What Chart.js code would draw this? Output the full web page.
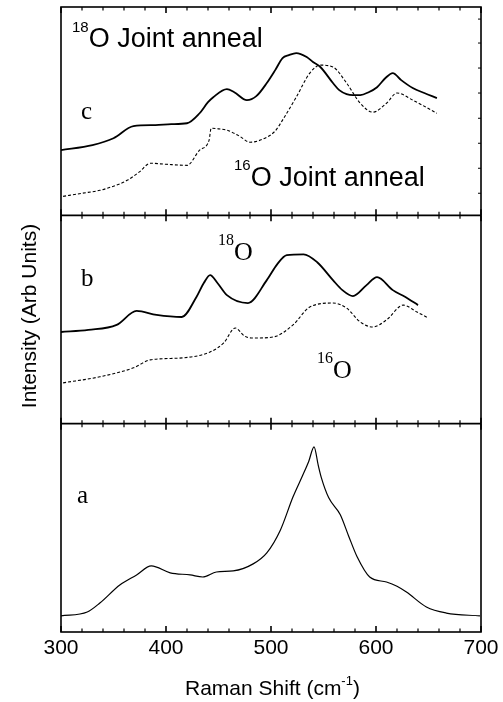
<!DOCTYPE html>
<html>
<head>
<meta charset="utf-8">
<script src="https://cdn.jsdelivr.net/npm/chart.js@4.4.0/dist/chart.umd.min.js"></script>
<style>
  html, body { margin: 0; padding: 0; background: #fff; }
  canvas { display: block; }
</style>
</head>
<body>
<canvas id="raman" width="503" height="702"></canvas>
<script>
// x ticks (Raman shift, cm-1)
const xTicks = [300, 400, 500, 600, 700];

// panel a : single spectrum
const shiftA = [300, 325, 337, 356, 372, 386, 404, 423, 435, 448, 464, 483, 496, 509, 521, 530, 536, 541, 545, 548, 555, 566, 574, 582, 594, 610, 620, 629, 648, 667, 699];
const intensityA = [7.7, 9.6, 13.9, 22.6, 27.4, 31.7, 28.4, 27.4, 26.4, 28.8, 29.3, 32.7, 38.0, 49.0, 64.9, 75.0, 82.0, 88.9, 80.0, 74.0, 64.4, 56.3, 46.0, 36.1, 26.4, 24.0, 22.0, 19.2, 12.0, 9.1, 7.7];

// panel b : 18O (solid) and 16O (dashed)
const shiftB18 = [300, 326, 353, 372, 391, 415, 429, 436, 442, 449, 458, 478, 496, 506, 515, 531, 544, 559, 568, 578, 591, 601, 616, 628, 640];
const intensityB18 = [44.0, 45.0, 47.4, 54.1, 52.2, 51.2, 60.8, 67.5, 71.3, 67.5, 61.7, 57.9, 68.9, 76.6, 80.9, 81.3, 77.5, 68.9, 64.1, 61.2, 66.5, 70.3, 64.1, 60.8, 56.9];
const shiftB16 = [302, 337, 369, 385, 416, 442, 455, 466, 475, 483, 502, 521, 537, 559, 572, 585, 597, 610, 626, 639, 650];
const intensityB16 = [19.6, 22.5, 26.8, 30.6, 31.6, 34.4, 38.8, 45.9, 42.0, 41.1, 41.6, 47.4, 56.0, 57.9, 55.5, 48.8, 46.4, 49.8, 56.9, 53.6, 50.7];

// panel c : 18O joint anneal (solid) and 16O joint anneal (dashed)
const shiftC18 = [300, 330, 350, 369, 390, 405, 420, 432, 440, 445, 458, 465, 477, 486, 496, 504, 511, 517, 524, 534, 540, 547, 559, 565, 572, 578, 585, 593, 601, 609, 616, 624, 635, 646, 658];
const intensityC18 = [31.3, 33.7, 37.0, 42.8, 43.3, 43.8, 44.2, 49.0, 54.3, 56.7, 60.6, 59.1, 55.3, 57.2, 63.5, 69.7, 75.5, 76.9, 77.9, 76.0, 73.6, 71.2, 63.5, 60.1, 58.2, 57.7, 57.7, 59.1, 61.5, 65.9, 68.3, 64.9, 61.1, 58.7, 56.3];
const shiftC16 = [302, 320, 337, 350, 363, 375, 385, 400, 420, 432, 441, 443, 450, 458, 470, 480, 496, 504, 511, 524, 537, 547, 559, 572, 585, 597, 610, 620, 635, 658];
const intensityC16 = [9.1, 10.6, 12.0, 14.0, 16.8, 21.0, 25.0, 24.5, 24.0, 31.3, 36.0, 41.8, 41.5, 40.9, 38.0, 35.1, 37.5, 40.5, 45.7, 56.7, 68.3, 72.1, 71.2, 63.5, 53.8, 49.5, 53.8, 58.7, 55.3, 49.0];

// right-edge ticks of the top panel (panel units)
const topPanelTicks = [10.6, 22.6, 34.6, 46.6, 58.7, 70.7, 82.7, 94.2];

// each panel spans 100 units of one shared y scale: a 0-100, b 100-200, c 200-300
const PANEL_A = 0, PANEL_B = 100, PANEL_C = 200;

function toPoints(xs, ys, base) {
  return xs.map((x, i) => ({ x: x, y: ys[i] + base }));
}

const SANS = '"Liberation Sans", Arial, sans-serif';
const SERIF = '"Liberation Serif", "Times New Roman", serif';

function line(ctx, x1, y1, x2, y2) {
  ctx.beginPath();
  ctx.moveTo(x1, y1);
  ctx.lineTo(x2, y2);
  ctx.stroke();
}

// superscripted label like 18O : sup drawn first, main text right after it
function isoLabel(ctx, sup, main, x, baseline, family, supSize, mainSize, raise) {
  ctx.font = supSize + 'px ' + family;
  ctx.fillText(sup, x, baseline - raise);
  const w = ctx.measureText(sup).width;
  ctx.font = mainSize + 'px ' + family;
  ctx.fillText(main, x + w, baseline);
}

const framePlugin = {
  id: 'frame',
  afterDraw(chart) {
    const { ctx, chartArea: a, scales: { x, y } } = chart;
    ctx.save();
    ctx.strokeStyle = '#000';
    ctx.fillStyle = '#000';

    // frame and panel separators
    ctx.lineWidth = 1.6;
    ctx.strokeRect(a.left, a.top, a.right - a.left, a.bottom - a.top);
    [PANEL_B, PANEL_C].forEach(v => {
      const py = y.getPixelForValue(v);
      line(ctx, a.left, py, a.right, py);
    });

    // inward x ticks on every panel edge
    for (let s = 300; s <= 700; s += 20) {
      const px = x.getPixelForValue(s);
      const major = s % 100 === 0;
      const len = major ? 6 : 3.5;
      ctx.lineWidth = major ? 1.6 : 1.2;
      [0, 100, 200, 300].forEach(edge => {
        const py = y.getPixelForValue(edge);
        if (edge < 300) line(ctx, px, py, px, py - len);
        if (edge > 0) line(ctx, px, py, px, py + len);
      });
    }

    // small ticks on the right edge of the top panel
    ctx.lineWidth = 1;
    topPanelTicks.forEach(v => {
      const py = y.getPixelForValue(v + PANEL_C);
      line(ctx, a.right, py, a.right - 3, py);
    });

    // annotations
    ctx.textAlign = 'left';
    ctx.textBaseline = 'alphabetic';
    isoLabel(ctx, '18', 'O Joint anneal', 72, 47, SANS, 15, 27, 15);
    isoLabel(ctx, '16', 'O Joint anneal', 234, 186, SANS, 15, 27, 16);
    isoLabel(ctx, '18', 'O', 218, 260, SERIF, 16, 26, 15);
    isoLabel(ctx, '16', 'O', 317, 378, SERIF, 16, 26, 15);
    ctx.font = '25px ' + SERIF;
    ctx.fillText('c', 81, 119);
    ctx.fillText('b', 81, 286);
    ctx.fillText('a', 77, 503);

    // x axis title with superscript
    ctx.font = '21px ' + SANS;
    const t1 = 'Raman Shift (cm';
    let tx = 185;
    ctx.fillText(t1, tx, 695);
    tx += ctx.measureText(t1).width;
    ctx.font = '13px ' + SANS;
    ctx.fillText('-1', tx, 685);
    tx += ctx.measureText('-1').width;
    ctx.font = '21px ' + SANS;
    ctx.fillText(')', tx, 695);

    // y axis title
    ctx.translate(36, 316);
    ctx.rotate(-Math.PI / 2);
    ctx.textAlign = 'center';
    ctx.fillText('Intensity (Arb Units)', 0, 0);
    ctx.restore();
  }
};

const solid = (data, width) => ({
  data: data,
  borderColor: '#000',
  borderWidth: width,
  pointRadius: 0,
  fill: false,
  cubicInterpolationMode: 'monotone',
});
const dashed = (data) => ({
  data: data,
  borderColor: '#000',
  borderWidth: 1.1,
  borderDash: [3, 2],
  pointRadius: 0,
  fill: false,
  cubicInterpolationMode: 'monotone',
});

new Chart(document.getElementById('raman').getContext('2d'), {
  type: 'line',
  data: {
    datasets: [
      solid(toPoints(shiftA, intensityA, PANEL_A), 1.2),
      solid(toPoints(shiftB18, intensityB18, PANEL_B), 1.8),
      dashed(toPoints(shiftB16, intensityB16, PANEL_B)),
      solid(toPoints(shiftC18, intensityC18, PANEL_C), 1.8),
      dashed(toPoints(shiftC16, intensityC16, PANEL_C)),
    ],
  },
  options: {
    responsive: false,
    animation: false,
    devicePixelRatio: 1,
    layout: { padding: { left: 61, right: 22, top: 7, bottom: 0 } },
    plugins: {
      legend: { display: false },
      tooltip: { enabled: false },
    },
    scales: {
      x: {
        type: 'linear',
        min: 300,
        max: 700,
        afterBuildTicks: (scale) => {
          scale.ticks = xTicks.map(v => ({ value: v }));
        },
        afterFit: (scale) => { scale.height = 70; },
        grid: { display: false, drawTicks: false },
        border: { display: false },
        ticks: {
          color: '#000',
          padding: 4,
          maxRotation: 0,
          font: { family: SANS, size: 21 },
        },
      },
      y: {
        display: false,
        min: 0,
        max: 300,
      },
    },
  },
  plugins: [framePlugin],
});
</script>
</body>
</html>
